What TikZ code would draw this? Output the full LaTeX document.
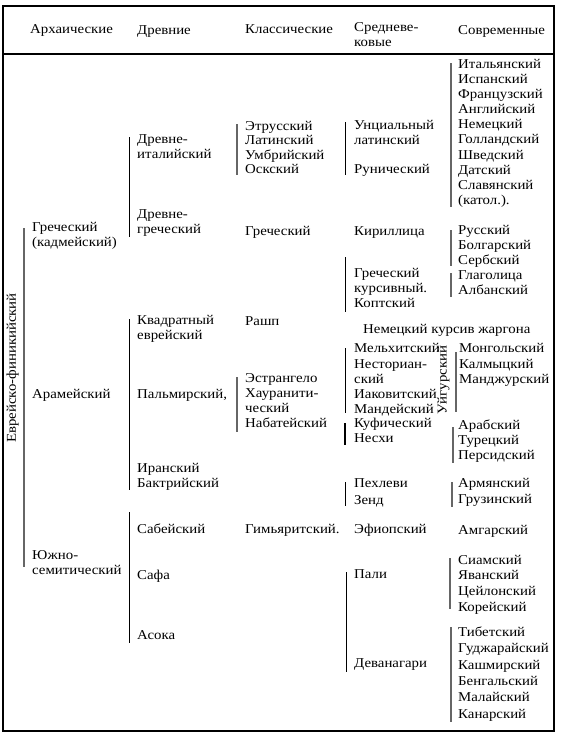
\documentclass[tikz,border=0pt]{standalone}
\usepackage{fontspec}
\setmainfont{Liberation Serif}[FakeStretch=1.1]
\begin{document}
\begin{tikzpicture}[x=1pt,y=-1pt,
  txt/.style={anchor=west,align=left,inner sep=0pt,
    font={\fontsize{13.5}{15}\selectfont},
    execute at begin node=\strut, execute at end node=\strut},
  sp/.style={font={\fontsize{13.5}{#1}\selectfont}},
  graybar/.style={draw=black!60,line width=2pt},
  blackbar/.style={draw=black,line width=0.9pt},
  thickbar/.style={draw=black,line width=2pt},
  frame/.style={draw=black,line width=1.2pt}]
\useasboundingbox (0,0) rectangle (560,736);
% frame
\draw[frame] (3,6) rectangle (554,731);
\draw[line width=2pt] (3,6) -- (554,6);
\draw[line width=1.5pt] (3,54) -- (554,54);
% header
\node[txt] (h1) at (30,30) {Архаические};
\node[txt] (h2) at (137,31) {Древние};
\node[txt] (h3) at (245,30) {Классические};
\node[txt] (h4) at (354,37) {Средневе-\\ковые};
\node[txt] (h5) at (458,31) {Современные};
% rotated labels
\node[txt,anchor=center,rotate=90] (ef) at (13,368) {Еврейско-финикийский};
\node[txt,anchor=center,rotate=90] (uy) at (443.5,380) {Уйгурский};
% column 1
\node[txt] (c1a) at (32,236.5) {Греческий\\(кадмейский)};
\node[txt] (c1b) at (32,395) {Арамейский};
\node[txt] (c1c) at (32,565) {Южно-\\семитический};
% column 2
\node[txt] (c2a) at (137,149) {Древне-\\италийский};
\node[txt] (c2b) at (137,223.5) {Древне-\\греческий};
\node[txt] (c2c) at (137,329.5) {Квадратный\\еврейский};
\node[txt] (c2d) at (137,395) {Пальмирский,};
\node[txt] (c2e) at (137,478) {Иранский\\Бактрийский};
\node[txt] (c2f) at (137,530) {Сабейский};
\node[txt] (c2g) at (137,576) {Сафа};
\node[txt] (c2h) at (137,636) {Асока};
% column 3
\node[txt,sp=14.3] (c3a) at (245,149.5) {Этрусский\\Латинский\\Умбрийский\\Оскский};
\node[txt] (c3b) at (245,232) {Греческий};
\node[txt] (c3c) at (245,322) {Рашп};
\node[txt] (c3d) at (245,403) {Эстрангело\\Хауранити-\\ческий\\Набатейский};
\node[txt] (c3e) at (245,530) {Гимьяритский.};
% column 4
\node[txt] (c4a) at (354,135) {Унциальный\\латинский};
\node[txt] (c4b) at (354,170) {Рунический};
\node[txt] (c4c) at (354,232) {Кириллица};
\node[txt] (c4d) at (354,290.5) {Греческий\\курсивный.\\Коптский};
\node[txt] (c4e) at (363,330) {Немецкий курсив жаргона};
\node[txt,sp=15.25] (c4f) at (354,381) {Мельхитский\\Несториан-\\ский\\Иаковитский\\Мандейский};
\node[txt] (c4g) at (354,432.5) {Куфический\\Несхи};
\node[txt,sp=17] (c4h) at (354,494) {Пехлеви\\Зенд};
\node[txt] (c4i) at (354,530) {Эфиопский};
\node[txt] (c4j) at (354,575) {Пали};
\node[txt] (c4k) at (354,664) {Деванагари};
% column 5
\node[txt,sp=15.1] (c5a) at (458,134) {Итальянский\\Испанский\\Французский\\Английский\\Немецкий\\Голландский\\Шведский\\Датский\\Славянский\\(катол.).};
\node[txt] (c5b) at (458,247) {Русский\\Болгарский\\Сербский};
\node[txt] (c5c) at (458,284.5) {Глаголица\\Албанский};
\node[txt,sp=15.5] (c5d) at (459,366) {Монгольский\\Калмыцкий\\Манджурский};
\node[txt] (c5e) at (458,442) {Арабский\\Турецкий\\Персидский};
\node[txt,sp=16] (c5f) at (458,493) {Армянский\\Грузинский};
\node[txt] (c5g) at (458,531) {Амгарский};
\node[txt,sp=15.7] (c5h) at (458,585.5) {Сиамский\\Яванский\\Цейлонский\\Корейский};
\node[txt,sp=16.4] (c5i) at (458,675) {Тибетский\\Гуджарайский\\Кашмирский\\Бенгальский\\Малайский\\Канарский};
% bars
\draw[graybar] (24,228) -- (24,567);
\draw[blackbar] (129,137) -- (129,237);
\draw[blackbar] (129,319) -- (129,490);
\draw[blackbar] (129,512) -- (129,643);
\draw[graybar] (237,124) -- (237,175);
\draw[graybar] (237,377) -- (237,432);
\draw[blackbar] (345,122) -- (345,175);
\draw[blackbar] (345,257) -- (345,312);
\draw[blackbar] (345,348) -- (345,413);
\draw[thickbar] (345,423) -- (345,445);
\draw[blackbar] (345,482) -- (345,506);
\draw[blackbar] (346,572) -- (346,672);
\draw[graybar] (451,63) -- (451,207);
\draw[graybar] (451,230) -- (451,266);
\draw[graybar] (451,273) -- (451,297);
\draw[graybar] (455.5,352) -- (455.5,412);
\draw[graybar] (453,427) -- (453,463);
\draw[graybar] (452,482) -- (452,507);
\draw[graybar] (450,558) -- (450,609);
\draw[graybar] (451,627) -- (451,722);
\end{tikzpicture}
\end{document}
